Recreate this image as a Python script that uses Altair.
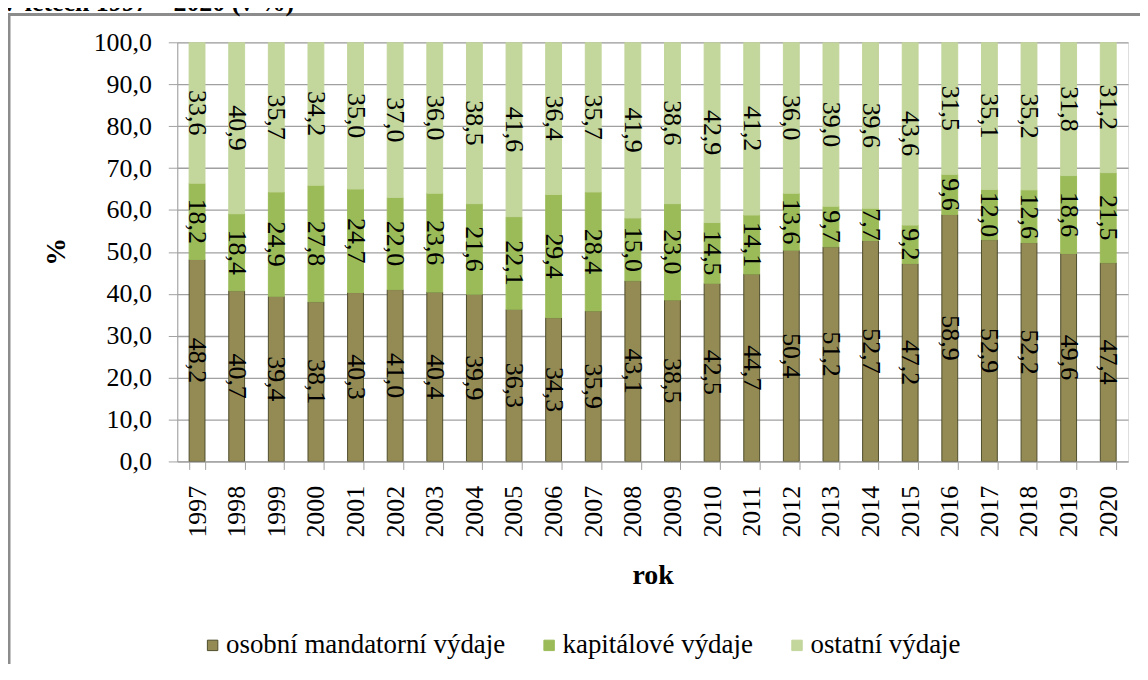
import altair as alt
import pandas as pd

years = [str(y) for y in range(1997, 2021)]
osobni = [48.2, 40.7, 39.4, 38.1, 40.3, 41.0, 40.4, 39.9, 36.3, 34.3, 35.9, 43.1,
          38.5, 42.5, 44.7, 50.4, 51.2, 52.7, 47.2, 58.9, 52.9, 52.2, 49.6, 47.4]
kapital = [18.2, 18.4, 24.9, 27.8, 24.7, 22.0, 23.6, 21.6, 22.1, 29.4, 28.4, 15.0,
           23.0, 14.5, 14.1, 13.6, 9.7, 7.7, 9.2, 9.6, 12.0, 12.6, 18.6, 21.5]
ostatni = [33.6, 40.9, 35.7, 34.2, 35.0, 37.0, 36.0, 38.5, 41.6, 36.4, 35.7, 41.9,
           38.6, 42.9, 41.2, 36.0, 39.0, 39.6, 43.6, 31.5, 35.1, 35.2, 31.8, 31.2]
series = ["osobní mandatorní výdaje", "kapitálové výdaje", "ostatní výdaje"]
fills = ["#948A54", "#9BBB59", "#C3D69B"]
strokes = ["#4F4E2C", "#9BBB59", "#C3D69B"]

rows = []
for i, y in enumerate(years):
    for k, (s, vals) in enumerate(zip(series, [osobni, kapital, ostatni])):
        rows.append({"year": y, "series": s, "value": vals[i], "ord": k})
df = pd.DataFrame(rows)

FONT = "Liberation Serif"

base = alt.Chart(df).transform_stack(
    stack="value", groupby=["year"], as_=["y0", "y1"],
    sort=[alt.SortField("ord", order="ascending")]
).transform_calculate(
    mid="(datum.y0 + datum.y1) / 2",
    label="replace(format(datum.value, '.1f'), '.', ',')"
)

xenc = alt.X("year:N", sort=years,
             scale=alt.Scale(paddingInner=0.6, paddingOuter=0.3),
             axis=alt.Axis(title="rok", labelAngle=-90, labelFont=FONT, labelFontSize=26,
                           labelColor="black", labelPadding=16, tickSize=8,
                           tickColor="#a0a0a0", domainColor="#a0a0a0", tickBand="extent",
                           titleFont=FONT, titleFontSize=28, titleFontWeight="bold",
                           titleColor="black", titleY=115, titleBaseline="middle",
                           grid=False))

yscale = alt.Scale(domain=[0, 100], nice=False)

bars = base.mark_bar(clip=True, strokeWidth=1).encode(
    x=xenc,
    y=alt.Y("y0:Q", scale=yscale,
            axis=alt.Axis(title="%", values=list(range(0, 101, 10)),
                          labelExpr="replace(format(datum.value, '.1f'), '.', ',')",
                          labelFont=FONT, labelFontSize=26, labelColor="black",
                          labelPadding=17, tickSize=9, tickColor="#a0a0a0",
                          domainColor="#a0a0a0", gridColor="#a0a0a0", gridWidth=1.3,
                          titleFont=FONT, titleFontSize=28, titleFontWeight="bold",
                          titleColor="black", titleAngle=-90, titleX=-121, titleY=210,
                          titleAlign="center", titleBaseline="middle")),
    y2="y1:Q",
    color=alt.Color("series:N", scale=alt.Scale(domain=series, range=fills),
                    sort=series,
                    legend=alt.Legend(title=None, orient="none", direction="horizontal",
                                      legendX=22, legendY=592, labelFont=FONT,
                                      labelFontSize=27, labelColor="black",
                                      labelLimit=0,
                                      symbolType="square", symbolSize=110,
                                      symbolStrokeWidth=1, labelOffset=0,
                                      columnPadding=30, padding=0)),
    stroke=alt.Stroke("series:N", scale=alt.Scale(domain=series, range=strokes),
                      legend=None),
)

labels = base.mark_text(angle=90, font=FONT, fontSize=26, color="black",
                        align="center", baseline="middle").encode(
    x=alt.X("year:N", sort=years),
    y=alt.Y("mid:Q", scale=yscale),
    text="label:N",
)

one = pd.DataFrame({"a": [0]})
border_top = alt.Chart(one).mark_rule(stroke="#8c8c8c", strokeWidth=3).encode(
    x=alt.value(-170), x2=alt.value(967), y=alt.value(-28)
)
border_left = alt.Chart(one).mark_rule(stroke="#8c8c8c", strokeWidth=3).encode(
    x=alt.value(-169), y=alt.value(-29), y2=alt.value(636)
)
title = alt.Chart(one).mark_text(font=FONT, fontSize=26, fontWeight="bold",
                                 align="left", baseline="alphabetic",
                                 color="black").encode(
    x=alt.value(-178), y=alt.value(-31), text=alt.value("V letech 1997 – 2020 (v %)")
)

chart = alt.layer(border_top, border_left, title, bars, labels).properties(
    width=955, height=421,
    padding={"left": 170, "top": 33, "right": 12, "bottom": 202},
    autosize=alt.AutoSizeParams(type="none"),
).configure_view(stroke=None).configure(background="white")

chart.save("out.html", embed_options={"renderer": "svg", "actions": False})
